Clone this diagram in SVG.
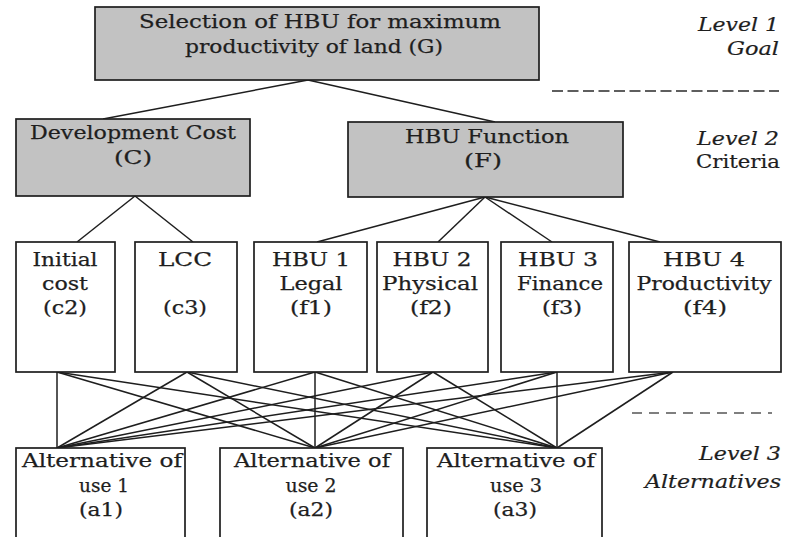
<svg xmlns="http://www.w3.org/2000/svg" width="790" height="537" viewBox="0 0 790 537">
  <style>
    .bg { fill: #ffffff; }
    .box { fill: #ffffff; stroke: #1e1e1e; stroke-width: 1.7; }
    .box.grey { fill: #c2c2c2; }
    .t { font-family: "DejaVu Serif", "Liberation Serif", serif; font-size: 19px; fill: #1e1e1e; stroke: #1e1e1e; stroke-width: 0.25; text-anchor: middle; }
    .lvl { font-family: "DejaVu Serif", "Liberation Serif", serif; font-size: 18px; fill: #1e1e1e; stroke: #1e1e1e; stroke-width: 0.2; text-anchor: end; }
    .it { font-style: italic; }
    .link { stroke: #1e1e1e; stroke-width: 1.5; fill: none; }
    .dash { stroke: #2a2a2a; stroke-width: 1.6; stroke-dasharray: 11 4.5; fill: none; }
    .dash.light { stroke: #555555; stroke-width: 1.3; stroke-dasharray: 10 7; }
  </style>
  <rect class="bg" x="0" y="0" width="790" height="537"/>

  <!-- connectors -->
  <g id="connectors">
    <!-- goal to criteria -->
    <line class="link" x1="308" y1="80" x2="103" y2="119"/>
    <line class="link" x1="308" y1="80" x2="495" y2="122"/>
    <!-- development cost to sub-criteria -->
    <line class="link" x1="135" y1="196" x2="77" y2="242"/>
    <line class="link" x1="135" y1="196" x2="193" y2="242"/>
    <!-- HBU function to sub-criteria -->
    <line class="link" x1="485" y1="197" x2="317" y2="242"/>
    <line class="link" x1="485" y1="197" x2="438" y2="242"/>
    <line class="link" x1="485" y1="197" x2="552" y2="242"/>
    <line class="link" x1="485" y1="197" x2="660" y2="242"/>
    <!-- every sub-criterion to every alternative -->
    <g class="link">
      <line x1="57" y1="372" x2="57" y2="448"/>
      <line x1="57" y1="372" x2="315" y2="448"/>
      <line x1="57" y1="372" x2="557" y2="448"/>
      <line x1="187" y1="372" x2="57" y2="448"/>
      <line x1="187" y1="372" x2="315" y2="448"/>
      <line x1="187" y1="372" x2="557" y2="448"/>
      <line x1="315" y1="372" x2="57" y2="448"/>
      <line x1="315" y1="372" x2="315" y2="448"/>
      <line x1="315" y1="372" x2="557" y2="448"/>
      <line x1="433" y1="372" x2="57" y2="448"/>
      <line x1="433" y1="372" x2="315" y2="448"/>
      <line x1="433" y1="372" x2="557" y2="448"/>
      <line x1="557" y1="372" x2="57" y2="448"/>
      <line x1="557" y1="372" x2="315" y2="448"/>
      <line x1="557" y1="372" x2="557" y2="448"/>
      <line x1="673" y1="372" x2="57" y2="448"/>
      <line x1="673" y1="372" x2="315" y2="448"/>
      <line x1="673" y1="372" x2="557" y2="448"/>
    </g>
  </g>

  <!-- level separators -->
  <line class="dash" x1="552" y1="91" x2="779" y2="91"/>
  <line class="dash light" x1="632" y1="413" x2="772" y2="413"/>

  <!-- level 1: goal -->
  <g id="goal">
    <rect class="box grey" x="95" y="7" width="444" height="73"/>
    <text class="t" x="320" y="28" textLength="362" lengthAdjust="spacingAndGlyphs">Selection of HBU for maximum</text>
    <text class="t" x="314" y="53" textLength="258" lengthAdjust="spacingAndGlyphs">productivity of land (G)</text>
  </g>

  <!-- level 2: criteria -->
  <g id="crit-c">
    <rect class="box grey" x="16" y="119" width="234" height="77"/>
    <text class="t" x="133" y="139" textLength="206" lengthAdjust="spacingAndGlyphs">Development Cost</text>
    <text class="t" x="133" y="164" textLength="38" lengthAdjust="spacingAndGlyphs">(C)</text>
  </g>
  <g id="crit-f">
    <rect class="box grey" x="348" y="122" width="275" height="75"/>
    <text class="t" x="487" y="143" textLength="164" lengthAdjust="spacingAndGlyphs">HBU Function</text>
    <text class="t" x="483" y="167" textLength="38" lengthAdjust="spacingAndGlyphs">(F)</text>
  </g>

  <!-- sub-criteria -->
  <g id="sub-c2">
    <rect class="box" x="16" y="242" width="99" height="130"/>
    <text class="t" x="65" y="266" textLength="65" lengthAdjust="spacingAndGlyphs">Initial</text>
    <text class="t" x="65" y="290" textLength="46" lengthAdjust="spacingAndGlyphs">cost</text>
    <text class="t" x="65" y="314" textLength="44" lengthAdjust="spacingAndGlyphs">(c2)</text>
  </g>
  <g id="sub-c3">
    <rect class="box" x="135" y="242" width="102" height="130"/>
    <text class="t" x="185" y="266" textLength="54" lengthAdjust="spacingAndGlyphs">LCC</text>
    <text class="t" x="185" y="314" textLength="44" lengthAdjust="spacingAndGlyphs">(c3)</text>
  </g>
  <g id="sub-f1">
    <rect class="box" x="254" y="242" width="113" height="130"/>
    <text class="t" x="311" y="266" textLength="78" lengthAdjust="spacingAndGlyphs">HBU 1</text>
    <text class="t" x="311" y="290" textLength="63" lengthAdjust="spacingAndGlyphs">Legal</text>
    <text class="t" x="311" y="314" textLength="42" lengthAdjust="spacingAndGlyphs">(f1)</text>
  </g>
  <g id="sub-f2">
    <rect class="box" x="377" y="242" width="111" height="130"/>
    <text class="t" x="432" y="266" textLength="79" lengthAdjust="spacingAndGlyphs">HBU 2</text>
    <text class="t" x="430" y="290" textLength="96" lengthAdjust="spacingAndGlyphs">Physical</text>
    <text class="t" x="431" y="314" textLength="42" lengthAdjust="spacingAndGlyphs">(f2)</text>
  </g>
  <g id="sub-f3">
    <rect class="box" x="501" y="242" width="112" height="130"/>
    <text class="t" x="558" y="266" textLength="80" lengthAdjust="spacingAndGlyphs">HBU 3</text>
    <text class="t" x="560" y="290" textLength="86" lengthAdjust="spacingAndGlyphs">Finance</text>
    <text class="t" x="562" y="314" textLength="40" lengthAdjust="spacingAndGlyphs">(f3)</text>
  </g>
  <g id="sub-f4">
    <rect class="box" x="629" y="242" width="152" height="130"/>
    <text class="t" x="704" y="266" textLength="82" lengthAdjust="spacingAndGlyphs">HBU 4</text>
    <text class="t" x="704" y="290" textLength="135" lengthAdjust="spacingAndGlyphs">Productivity</text>
    <text class="t" x="705" y="314" textLength="44" lengthAdjust="spacingAndGlyphs">(f4)</text>
  </g>

  <!-- level 3: alternatives -->
  <g id="alt-a1">
    <rect class="box" x="16" y="448" width="169" height="100"/>
    <text class="t" x="102" y="467" textLength="160" lengthAdjust="spacingAndGlyphs">Alternative of</text>
    <text class="t" x="104" y="492" textLength="50" lengthAdjust="spacingAndGlyphs">use 1</text>
    <text class="t" x="101" y="516" textLength="44" lengthAdjust="spacingAndGlyphs">(a1)</text>
  </g>
  <g id="alt-a2">
    <rect class="box" x="220" y="448" width="183" height="100"/>
    <text class="t" x="312" y="467" textLength="156" lengthAdjust="spacingAndGlyphs">Alternative of</text>
    <text class="t" x="311" y="492" textLength="51" lengthAdjust="spacingAndGlyphs">use 2</text>
    <text class="t" x="311" y="516" textLength="44" lengthAdjust="spacingAndGlyphs">(a2)</text>
  </g>
  <g id="alt-a3">
    <rect class="box" x="427" y="448" width="175" height="100"/>
    <text class="t" x="516" y="467" textLength="158" lengthAdjust="spacingAndGlyphs">Alternative of</text>
    <text class="t" x="516" y="492" textLength="52" lengthAdjust="spacingAndGlyphs">use 3</text>
    <text class="t" x="515" y="516" textLength="44" lengthAdjust="spacingAndGlyphs">(a3)</text>
  </g>

  <!-- level captions -->
  <text class="lvl it" x="779" y="31" textLength="81" lengthAdjust="spacingAndGlyphs">Level 1</text>
  <text class="lvl it" x="779" y="55" textLength="52" lengthAdjust="spacingAndGlyphs">Goal</text>
  <text class="lvl it" x="779" y="145" textLength="82" lengthAdjust="spacingAndGlyphs">Level 2</text>
  <text class="lvl" x="780" y="168" textLength="84" lengthAdjust="spacingAndGlyphs">Criteria</text>
  <text class="lvl it" x="781" y="460" textLength="82" lengthAdjust="spacingAndGlyphs">Level 3</text>
  <text class="lvl it" x="781" y="488" textLength="136" lengthAdjust="spacingAndGlyphs">Alternatives</text>
</svg>
